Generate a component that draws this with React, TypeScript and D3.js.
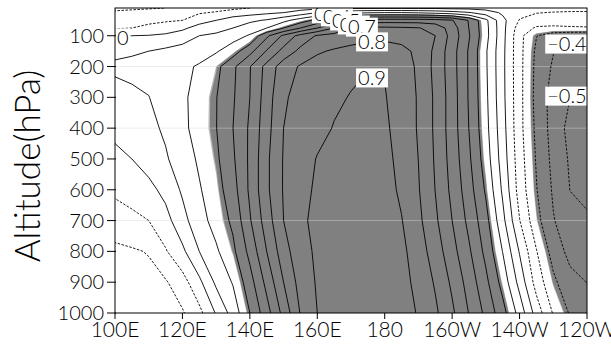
import React, { useRef, useEffect } from "react";
import * as d3 from "d3";

// grid columns: longitude (deg E), 100E .. 120W
const lons = d3.range(100, 241, 5);
// grid rows: pressure levels (hPa), top to bottom
const levels = [10, 25, 50, 75, 100, 150, 200, 300, 400, 500, 600, 700, 800, 900, 1000];

// correlation coefficient at each level
const r10 = [-0.23, -0.22, -0.21, -0.2, -0.18, -0.16, -0.14, -0.12, -0.1, -0.08, -0.06, -0.04, -0.03, -0.02, -0.02, -0.02, -0.02, -0.02, -0.02, -0.02, -0.03, -0.03, -0.04, -0.05, -0.06, -0.07, -0.07, -0.07, -0.07];
const r25 = [-0.18, -0.17, -0.16, -0.15, -0.13, -0.11, -0.09, -0.06, -0.04, -0.02, 0.0, 0.04, 0.1, 0.14, 0.17, 0.19, 0.2, 0.2, 0.19, 0.17, 0.145, 0.107, 0.051, -0.017, -0.07, -0.096, -0.104, -0.109, -0.11];
const r50 = [-0.14, -0.13, -0.12, -0.11, -0.1, -0.04, 0.0, 0.05, 0.08, 0.11, 0.17, 0.25, 0.33, 0.42, 0.5, 0.54, 0.55, 0.55, 0.55, 0.54, 0.507, 0.393, 0.223, 0.028, -0.106, -0.146, -0.15, -0.14, -0.14];
const r75 = [-0.11, -0.1, -0.08, -0.06, -0.02, 0.04, 0.07, 0.1, 0.15, 0.2, 0.3, 0.4, 0.5, 0.6, 0.7, 0.72, 0.72, 0.715, 0.705, 0.667, 0.55, 0.398, 0.231, 0.03, -0.148, -0.212, -0.22, -0.215, -0.21];
const r100 = [-0.01, 0.0, 0.005, 0.02, 0.05, 0.1, 0.116, 0.16, 0.21, 0.38, 0.52, 0.635, 0.71, 0.74, 0.76, 0.775, 0.78, 0.77, 0.753, 0.7, 0.562, 0.408, 0.233, 0.03, -0.17, -0.297, -0.351, -0.368, -0.378];
const r150 = [0.08, 0.09, 0.1, 0.12, 0.14, 0.16, 0.19, 0.253, 0.369, 0.508, 0.633, 0.726, 0.789, 0.81, 0.825, 0.835, 0.835, 0.822, 0.782, 0.678, 0.542, 0.388, 0.212, 0.024, -0.17, -0.318, -0.396, -0.418, -0.42];
const r200 = [0.115, 0.12, 0.13, 0.15, 0.18, 0.21, 0.27, 0.38, 0.495, 0.633, 0.753, 0.81, 0.835, 0.855, 0.88, 0.897, 0.895, 0.864, 0.779, 0.674, 0.542, 0.388, 0.213, 0.023, -0.171, -0.324, -0.413, -0.445, -0.458];
const r300 = [0.07, 0.085, 0.098, 0.14, 0.183, 0.236, 0.296, 0.389, 0.5, 0.65, 0.79, 0.825, 0.852, 0.884, 0.905, 0.915, 0.905, 0.86, 0.791, 0.683, 0.55, 0.39, 0.221, 0.026, -0.17, -0.33, -0.442, -0.5, -0.51];
const r400 = [0.03, 0.05, 0.075, 0.115, 0.178, 0.238, 0.297, 0.4, 0.515, 0.664, 0.8, 0.835, 0.87, 0.905, 0.925, 0.93, 0.915, 0.864, 0.791, 0.683, 0.55, 0.398, 0.231, 0.038, -0.17, -0.321, -0.441, -0.531, -0.55];
const r500 = [-0.03, 0.0, 0.045, 0.089, 0.15, 0.215, 0.281, 0.386, 0.518, 0.68, 0.807, 0.855, 0.905, 0.93, 0.945, 0.945, 0.925, 0.874, 0.799, 0.689, 0.56, 0.417, 0.251, 0.054, -0.157, -0.309, -0.428, -0.513, -0.538];
const r600 = [-0.08, -0.05, -0.03, 0.03, 0.114, 0.191, 0.258, 0.36, 0.518, 0.68, 0.808, 0.87, 0.915, 0.94, 0.95, 0.955, 0.935, 0.884, 0.807, 0.698, 0.575, 0.442, 0.286, 0.083, -0.143, -0.295, -0.413, -0.502, -0.528];
const r700 = [-0.15, -0.13, -0.1, -0.036, 0.067, 0.162, 0.2375, 0.32, 0.49, 0.65, 0.8, 0.885, 0.92, 0.94, 0.955, 0.96, 0.955, 0.904, 0.823, 0.718, 0.6, 0.473, 0.334, 0.129, -0.097, -0.267, -0.394, -0.459, -0.485];
const r800 = [-0.22, -0.21, -0.195, -0.109, -0.021, 0.1, 0.185, 0.278, 0.43, 0.6, 0.758, 0.867, 0.915, 0.94, 0.95, 0.955, 0.95, 0.924, 0.848, 0.753, 0.636, 0.515, 0.372, 0.197, -0.008, -0.195, -0.34, -0.432, -0.465];
const r900 = [-0.24, -0.235, -0.225, -0.21, -0.141, -0.023, 0.12, 0.208, 0.36, 0.53, 0.7, 0.839, 0.91, 0.935, 0.95, 0.955, 0.95, 0.933, 0.872, 0.789, 0.681, 0.559, 0.425, 0.262, 0.066, -0.142, -0.279, -0.367, -0.402];
const r1000 = [-0.25, -0.245, -0.24, -0.23, -0.21, -0.128, 0.009, 0.141, 0.3, 0.46, 0.633, 0.806, 0.9, 0.93, 0.95, 0.96, 0.955, 0.938, 0.893, 0.818, 0.718, 0.596, 0.476, 0.337, 0.162, -0.043, -0.209, -0.31, -0.361];

const field = [r10, r25, r50, r75, r100, r150, r200, r300, r400, r500, r600, r700, r800, r900, r1000];

const contourLevels = [-0.5, -0.4, -0.3, -0.2, -0.1, 0, 0.1, 0.2, 0.3, 0.4, 0.5, 0.6, 0.7, 0.8, 0.9];
const shadeLevel = 0.275;
const fringeLevel = 0.27;

const yTicks = [100, 200, 300, 400, 500, 600, 700, 800, 900, 1000];
const xTicks = [100, 120, 140, 160, 180, 200, 220, 240];
const xTickLabels = ["100E", "120E", "140E", "160E", "180", "160W", "140W", "120W"];
const gridLevels = [200, 400, 700];

// contour labels (GrADS style, white box), anchored at lon / hPa
const labelText = ["0", "0.3", "0.4", "0.5", "0.6", "0.7", "0.8", "0.9", "\u22120.4", "\u22120.5"];
const labelLon = [100.6, 159.0, 161.7, 164.4, 166.7, 169.1, 172.1, 172.1, 228.2, 228.2];
const labelP = [107, 29, 39, 52, 65, 72, 120, 237, 127, 296];

const FONT = "Lato, 'Liberation Sans', Arial, sans-serif";

const App = () => {
  const svgRef = useRef<SVGSVGElement>(null);

  useEffect(() => {
    const svg = d3.select(svgRef.current);
    svg.selectAll("*").remove();
    const w = 611;
    const h = 349;
    const left = 115, right = 587, top = 8, bottom = 313;

    const x = d3.scaleLinear().domain([100, 240]).range([left, right]);
    const y = d3.scaleLinear().domain([10, 1000]).range([top, bottom]);
    const col = d3.scaleLinear().domain([0, lons.length - 1]).range([lons[0], lons[lons.length - 1]]);
    const row = d3.scaleLinear().domain(d3.range(levels.length)).range(levels);

    const nx = lons.length, ny = levels.length;
    const grid = field.flat();
    const neg = grid.map((v) => -v);
    const gen = d3.contours().size([nx, ny]).smooth(true);

    const project = (p: number[]) => [x(col(p[0] - 0.5)), y(row(p[1] - 0.5))];
    const toPath = (mp: any) =>
      mp.coordinates
        .map((poly: number[][][]) =>
          poly.map((ring) => "M" + ring.map((p) => project(p).map((v) => v.toFixed(2)).join(",")).join("L") + "Z").join("")
        )
        .join("");

    svg.append("rect").attr("width", w).attr("height", h).attr("fill", "white");

    svg.append("defs").append("clipPath").attr("id", "plotclip")
      .append("rect").attr("x", left).attr("y", top).attr("width", right - left).attr("height", bottom - top);

    const plot = svg.append("g").attr("clip-path", "url(#plotclip)");

    // shading |r| >= threshold
    [[fringeLevel, "#b8b8b8"], [shadeLevel, "#808080"]].forEach(([t, c]) => {
      plot.append("path").attr("d", toPath(gen.contour(grid, t as number))).attr("fill", c as string);
      plot.append("path").attr("d", toPath(gen.contour(neg, t as number))).attr("fill", c as string);
    });

    // faint horizontal lines
    plot.selectAll("line.grid").data(gridLevels).join("line")
      .attr("class", "grid")
      .attr("x1", left).attr("x2", right)
      .attr("y1", (d) => y(d)).attr("y2", (d) => y(d))
      .attr("stroke", "#d8d8d8").attr("stroke-opacity", 0.45).attr("stroke-width", 1);

    // contour lines
    contourLevels.forEach((t) => {
      plot.append("path")
        .attr("d", toPath(gen.contour(grid, t)))
        .attr("fill", "none")
        .attr("stroke", "#000")
        .attr("stroke-width", 0.9)
        .attr("stroke-linejoin", "round")
        .attr("stroke-dasharray", t < 0 ? "2.5,1.5" : null);
    });

    // contour labels
    labelText.forEach((txt, i) => {
      const g = plot.append("g");
      const rect = g.append("rect").attr("fill", "white");
      const lx = x(labelLon[i]);
      const ly = y(labelP[i]);
      const t = g.append("text")
        .attr("x", lx).attr("y", ly).attr("dy", "0.36em")
        .attr("font-family", FONT).attr("font-weight", 300).attr("font-size", 20)
        .attr("fill", "#000").text(txt);
      const tw = (t.node() as SVGTextElement).getComputedTextLength();
      rect.attr("x", lx - 2).attr("y", ly - 9.5).attr("width", tw + 4).attr("height", 19);
    });

    // frame
    svg.append("rect")
      .attr("x", left).attr("y", top).attr("width", right - left).attr("height", bottom - top)
      .attr("fill", "none").attr("stroke", "#000").attr("stroke-width", 1);

    // y axis ticks and labels
    svg.selectAll("line.yt").data(yTicks).join("line").attr("class", "yt")
      .attr("x1", left - 8).attr("x2", left + 1)
      .attr("y1", (d) => y(d)).attr("y2", (d) => y(d))
      .attr("stroke", "#000").attr("stroke-width", 1);
    svg.selectAll("text.yl").data(yTicks).join("text").attr("class", "yl")
      .attr("x", left - 11).attr("y", (d) => y(d)).attr("dy", "0.35em")
      .attr("text-anchor", "end").attr("font-family", FONT).attr("font-weight", 300).attr("font-size", 20)
      .text((d) => d);

    // x axis ticks and labels
    svg.selectAll("line.xt").data(xTicks).join("line").attr("class", "xt")
      .attr("x1", (d) => x(d)).attr("x2", (d) => x(d))
      .attr("y1", bottom).attr("y2", bottom + 6)
      .attr("stroke", "#000").attr("stroke-width", 1);
    svg.selectAll("text.xl").data(xTicks).join("text").attr("class", "xl")
      .attr("x", (d) => x(d)).attr("y", 337)
      .attr("text-anchor", "middle").attr("font-family", FONT).attr("font-weight", 300).attr("font-size", 21)
      .text((d, i) => xTickLabels[i]);

    // y axis title
    svg.append("text")
      .attr("transform", "translate(40,166) rotate(-90)")
      .attr("text-anchor", "middle").attr("font-family", FONT).attr("font-weight", 300).attr("font-size", 35)
      .text("Altitude(hPa)");
  }, []);

  return (
    <svg ref={svgRef} width={611} height={349}
      style={{ position: "absolute", left: 0, top: 0, background: "white" }} />
  );
};

export default App;
